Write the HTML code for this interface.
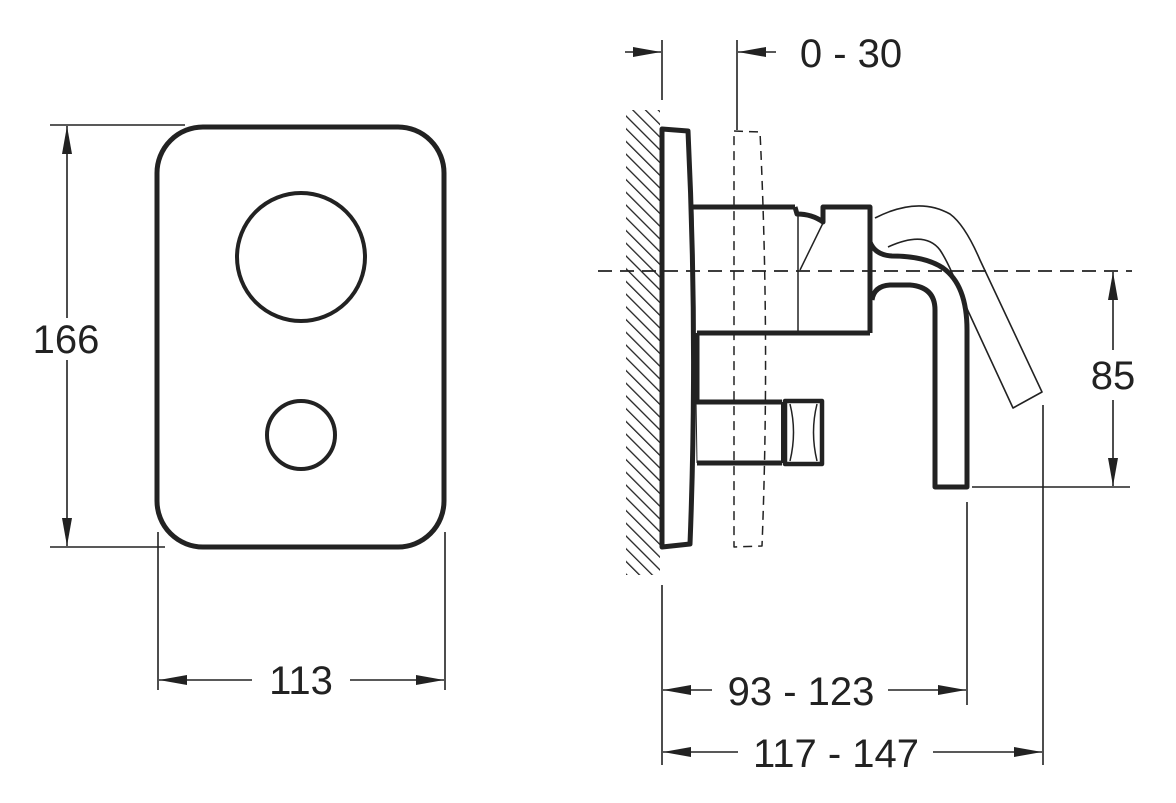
<!DOCTYPE html>
<html><head><style>html,body{margin:0;padding:0;background:#fff}svg{display:block}</style></head>
<body>
<svg width="1176" height="803" viewBox="0 0 1176 803" xmlns="http://www.w3.org/2000/svg">
<defs>
<marker id="a" viewBox="0 0 28 10" refX="28" refY="5" markerWidth="28" markerHeight="10" markerUnits="userSpaceOnUse" orient="auto-start-reverse"><path d="M0,0 L28,5 L0,10 Z" fill="#222"/></marker>
<pattern id="h" width="9" height="9" patternUnits="userSpaceOnUse" patternTransform="rotate(-45)"><line x1="0" y1="0" x2="0" y2="9" stroke="#222" stroke-width="2.6"/></pattern>
</defs>
<g fill="none" stroke="#222" stroke-linejoin="round">
<rect x="157" y="127" width="287" height="420" rx="46" stroke-width="5"/>
<circle cx="301" cy="257" r="64" stroke-width="4"/>
<circle cx="301" cy="435" r="34" stroke-width="4"/>
<g stroke-width="1.6">
<line x1="50" y1="125" x2="185" y2="125"/>
<line x1="50" y1="547" x2="165" y2="547"/>
<line x1="67" y1="318" x2="67" y2="126" marker-end="url(#a)"/>
<line x1="67" y1="360" x2="67" y2="546" marker-end="url(#a)"/>
<line x1="158" y1="532" x2="158" y2="690"/>
<line x1="445" y1="532" x2="445" y2="690"/>
<line x1="252" y1="680" x2="159" y2="680" marker-end="url(#a)"/>
<line x1="350" y1="680" x2="444" y2="680" marker-end="url(#a)"/>
</g>
<rect x="626" y="110" width="34" height="465" fill="url(#h)" stroke="none"/>
<line x1="598" y1="271" x2="1132" y2="271" stroke-width="1.8" stroke-dasharray="14,8"/>
<path d="M734,131 L760,132 Q770,340 762,546 L734,547 Z" stroke-width="1.5" stroke-dasharray="9,6"/>
<path d="M662,129 L688,131 Q698,340 690,544 L662,547 Z" stroke-width="5"/>
<line x1="693" y1="207" x2="697" y2="463" stroke-width="1"/>
<path d="M693,207 L795,207 M697,333 L870,333 M697,333 L697,402 L782,402 M697,463 L782,463" stroke-width="5"/>
<path d="M795,207 L797,214 Q812,214 823,222 L823,207 L870,207 L870,333" stroke-width="5"/>
<line x1="798" y1="215" x2="798" y2="333" stroke-width="1.5"/>
<line x1="823" y1="223" x2="800" y2="270" stroke-width="1.5"/>
<rect x="785" y="401" width="37" height="63" stroke-width="4.5"/>
<path d="M790,404 Q797,432 790,461 M817,404 Q810,432 817,461" stroke-width="1.5"/>
<line x1="782" y1="402" x2="782" y2="463" stroke-width="2"/>
<path d="M870,242 Q875,255 892,256 Q925,256 943,268 Q967,285 967,330 L967,487 L935,487 L935,310 Q935,287 910,285 L890,285 Q874,286 872,300" stroke-width="5"/>
<path d="M875,218 Q918,196 950,214 Q965,225 980,260 L1042,392 L1013,408 L963,300 Q950,265 940,250 Q925,230 888,247" stroke-width="1.6"/>
<g stroke-width="1.6">
<line x1="662" y1="40" x2="662" y2="100"/>
<line x1="737" y1="40" x2="737" y2="130"/>
<line x1="625" y1="52" x2="661" y2="52" marker-end="url(#a)"/>
<line x1="776" y1="52" x2="738" y2="52" marker-end="url(#a)"/>
<line x1="972" y1="487" x2="1130" y2="487"/>
<line x1="1113" y1="350" x2="1113" y2="272" marker-end="url(#a)"/>
<line x1="1113" y1="400" x2="1113" y2="486" marker-end="url(#a)"/>
<line x1="662" y1="585" x2="662" y2="765"/>
<line x1="967" y1="502" x2="967" y2="705"/>
<line x1="1043" y1="405" x2="1043" y2="765"/>
<line x1="712" y1="690" x2="663" y2="690" marker-end="url(#a)"/>
<line x1="888" y1="690" x2="966" y2="690" marker-end="url(#a)"/>
<line x1="738" y1="752" x2="663" y2="752" marker-end="url(#a)"/>
<line x1="933" y1="752" x2="1042" y2="752" marker-end="url(#a)"/>
</g>
</g>
<g font-family="Liberation Sans, sans-serif" font-size="40" fill="#222" text-anchor="middle">
<text x="66" y="353">166</text>
<text x="301" y="694">113</text>
<text x="851" y="67">0 - 30</text>
<text x="1113" y="389">85</text>
<text x="801" y="705">93 - 123</text>
<text x="836" y="767">117 - 147</text>
</g>
</svg>
</body></html>
